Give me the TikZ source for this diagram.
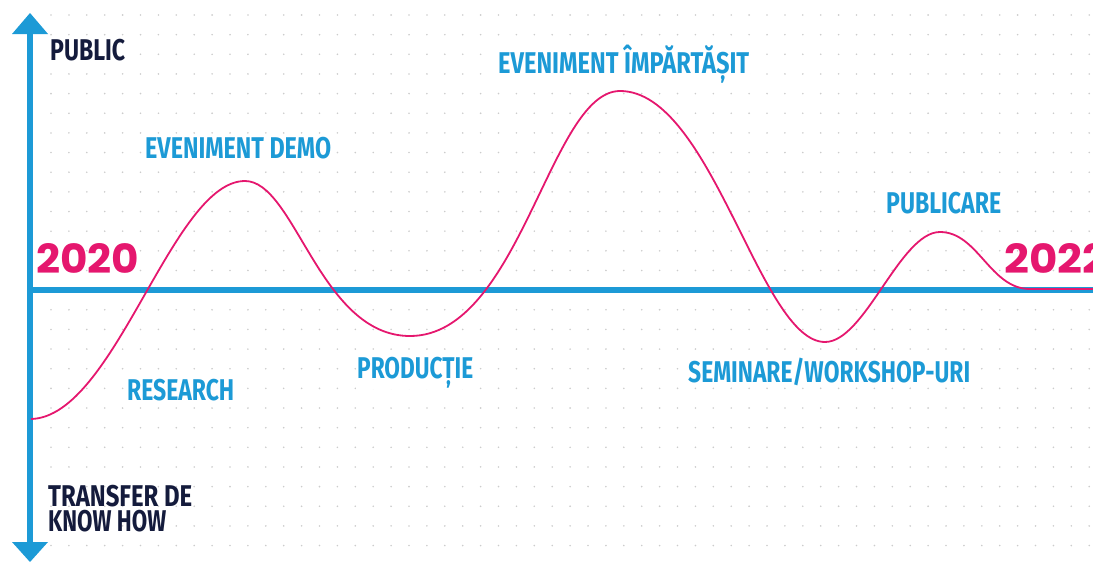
\documentclass[tikz,border=0pt]{standalone}
\usepackage{fontspec}
\usepackage{graphicx}
\newfontfamily\labfont{Fira Sans}
\newfontfamily\yearfont{Poppins}
\definecolor{axisblue}{HTML}{1C9AD6}
\definecolor{curvepink}{HTML}{E5176E}
\definecolor{navy}{HTML}{141B3C}
\newcommand\fitw[2]{\resizebox{#1}{\height}{#2}}
\tikzset{
  lab/.style={anchor=base west, inner sep=1pt, fill=white, text=axisblue, font=\labfont\bfseries\fontsize{30}{30}\selectfont},
  axlab/.style={lab, text=navy},
  yearlab/.style={anchor=base west, inner sep=1pt, text=curvepink, font=\yearfont\bfseries\fontsize{43}{43}\selectfont},
  gdot/.style={fill=black!20, draw=none},
  axisline/.style={draw=axisblue, line width=5.5pt},
  curveline/.style={draw=curvepink, line width=1.8pt}
}
\begin{document}
\begin{tikzpicture}[x=1pt,y=-1pt]
\useasboundingbox (0,0) rectangle (1093,562);
\clip (0,0) rectangle (1093,562);
% dot grid
\foreach \i in {0,...,58}{
  \foreach \j in {0,...,27}{
    \fill[gdot] (51+17.9*\i, 15+19.65*\j) circle (0.9pt);
  }
}
% axes
\coordinate (vtop) at (30,30);
\coordinate (vbot) at (30,544);
\coordinate (hleft) at (30,290);
\coordinate (hright) at (1093,290);
\draw[axisline] (vtop) -- (vbot);
\draw[axisline] (hleft) -- (hright);
\fill[axisblue] (12,34) -- (30,13) -- (48,34) -- cycle;
\fill[axisblue] (12,542) -- (30,562) -- (48,542) -- cycle;
% curve
\coordinate (c0) at (31,419);
\coordinate (c1) at (245,181);
\coordinate (c2) at (410,336);
\coordinate (c3) at (620,91);
\coordinate (c4) at (825,342);
\coordinate (c5) at (940,232);
\coordinate (c6) at (1030,289);
\coordinate (c7) at (1093,289);
\draw[curveline] (c0) .. controls (115,417) and (172,181) .. (c1)
  .. controls (295,181) and (320,336) .. (c2)
  .. controls (520,336) and (550,91) .. (c3)
  .. controls (712,91) and (760,342) .. (c4)
  .. controls (865,342) and (900,232) .. (c5)
  .. controls (978,232) and (990,289) .. (c6) -- (c7);
% labels
\node[axlab] (public) at (49,60) {\fitw{75pt}{PUBLIC}};
\node[axlab, fill=none, inner sep=0pt, anchor=north west, align=left,
      font=\labfont\bfseries\fontsize{30}{25}\selectfont] (transfer) at (48,485)
      {\fitw{144pt}{TRANSFER DE}\\\fitw{118pt}{KNOW HOW}};
\node[lab] (demo) at (144,158) {\fitw{186pt}{EVENIMENT DEMO}};
\node[lab] (shared) at (497,73) {\fitw{251pt}{EVENIMENT ÎMPĂRTĂȘIT}};
\node[lab] (publicare) at (885,213) {\fitw{115pt}{PUBLICARE}};
\node[lab] (research) at (126,400) {\fitw{107pt}{RESEARCH}};
\node[lab] (productie) at (356,378) {\fitw{116pt}{PRODUCȚIE}};
\node[lab] (seminare) at (687,382) {\fitw{282pt}{SEMINARE/WORKSHOP-URI}};
\node[yearlab] (y2020) at (35,273) {\resizebox{103pt}{30pt}{2020}};
\node[yearlab] (y2022) at (1003,273) {\resizebox{103pt}{30pt}{2022}};
\end{tikzpicture}
\end{document}
